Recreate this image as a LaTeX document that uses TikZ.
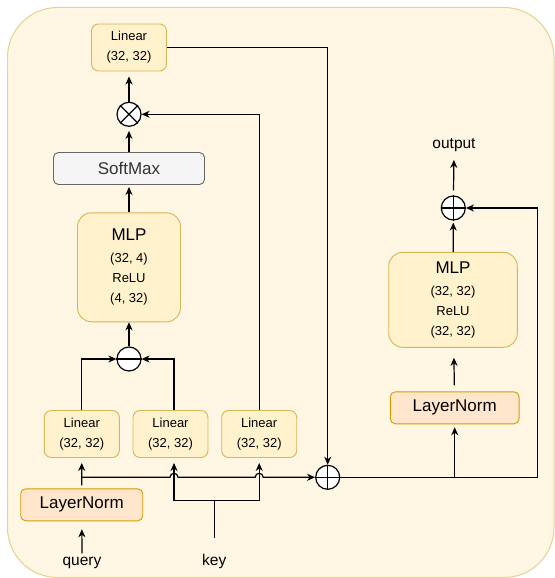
\documentclass[tikz,border=0pt]{standalone}
\usepackage{fontspec}
\setmainfont{Liberation Sans}
\usepackage{xcolor}
\usetikzlibrary{arrows.meta}

\definecolor{bgfill}{HTML}{FFF6E3}
\definecolor{bgdraw}{HTML}{E8D08F}
\definecolor{ylwfill}{HTML}{FFF2CC}
\definecolor{ylwdraw}{HTML}{D6B656}
\definecolor{orgfill}{HTML}{FFE6CC}
\definecolor{orgdraw}{HTML}{D79B00}
\definecolor{gryfill}{HTML}{F5F5F5}
\definecolor{grydraw}{HTML}{666666}

\begin{document}
\begin{tikzpicture}[
  x=1pt, y=-1pt,
  blk/.style={draw=ylwdraw, fill=ylwfill, line width=0.9pt, align=center, inner sep=0pt,
    font=\fontsize{13}{20}\selectfont},
  lin/.style={blk, rounded corners=7pt, minimum width=75pt, minimum height=47pt},
  mlpbox/.style={blk, rounded corners=14pt},
  norm/.style={draw=orgdraw, fill=orgfill, line width=0.9pt, rounded corners=5pt,
    minimum height=32pt, inner sep=0pt, font=\fontsize{17}{20}\selectfont},
  soft/.style={draw=grydraw, fill=gryfill, line width=0.9pt, rounded corners=5pt,
    minimum width=151pt, minimum height=32pt, inner sep=0pt, text=black!80,
    font=\fontsize{17}{20}\selectfont},
  op/.style={circle, draw, fill=white, line width=1.2pt, minimum size=24pt, inner sep=0pt},
  wire/.style={line width=1.2pt},
  arr/.style={wire, -{Stealth[length=8pt, width=7pt, inset=2.5pt]}},
  lbl/.style={font=\fontsize{15.5}{18}\selectfont, inner sep=0pt, anchor=base},
]
  \useasboundingbox (0,0) rectangle (554,578);
  % background panel
  \draw[bgdraw, fill=bgfill, line width=1pt, rounded corners=50pt] (7.5,7.5) rectangle (554,577.5);

  % attention branch (left)
  \node[lin] (lt) at (129,47.5) {Linear\\(32, 32)};
  \node[op] (mul) at (129,114.3) {};
  \draw[wire] (mul.45) -- (mul.225) (mul.135) -- (mul.315);
  \node[soft] (sm) at (129,168.5) {SoftMax};
  \node[mlpbox, minimum width=103pt, minimum height=109pt] (mlp1) at (129,267.3)
    {{\fontsize{17}{20}\selectfont MLP}\\[2pt](32, 4)\\ReLU\\(4, 32)};
  \node[op] (sub) at (129,359) {};
  \draw[wire] (sub.west) -- (sub.east);

  \node[lin] (lq) at (81.8,434) {Linear\\(32, 32)};
  \node[lin] (lk) at (170.5,434) {Linear\\(32, 32)};
  \node[lin] (lv) at (259.2,434) {Linear\\(32, 32)};
  \node[norm, minimum width=122pt] (ln1) at (81.7,504.8) {LayerNorm};

  % inputs
  \node[lbl] (q) at (82,565) {query};
  \node[lbl] (k) at (214.3,565) {key};

  % feed-forward branch (right)
  \node[op] (add1) at (327.7,477.3) {};
  \draw[wire] (add1.north) -- (add1.south) (add1.west) -- (add1.east);
  \node[norm, minimum width=128.7pt] (ln2) at (454.7,407.8) {LayerNorm};
  \node[mlpbox, minimum width=128.6pt, minimum height=95pt] (mlp2) at (453,299.8)
    {{\fontsize{17}{20}\selectfont MLP}\\[2pt](32, 32)\\ReLU\\(32, 32)};
  \node[op] (add2) at (453.3,208) {};
  \draw[wire] (add2.north) -- (add2.south) (add2.west) -- (add2.east);
  \node[lbl] (out) at (454,148.5) {output};

  % connectors
  \coordinate (kx) at ([xshift=3.5pt]lk.north);
  \draw[arr, shorten <=3pt, shorten >=8pt] (q.north) -- (ln1);
  \draw[arr, shorten <=3pt, shorten >=5pt] (ln1) -- (lq);
  \draw[wire] (k.north) ++(0,-16) -- (214.3,500.7) coordinate (kj);
  \draw[arr, shorten >=5pt] (kj) -| (kx |- lk.south);
  \draw[arr, shorten >=5pt] (kj) -| (lv.south);
  \coordinate (br) at (ln1.north |- add1);
  \draw[arr] (br) -- (170,477.3) .. controls (170,472) and (178,472) .. (178,477.3)
    -- (255.2,477.3) .. controls (255.2,472) and (263.2,472) .. (263.2,477.3) -- (add1);

  \draw[arr] (lq.north) |- (sub);
  \draw[arr] (kx) |- (sub);
  \draw[arr] (sub) -- (mlp1);
  \draw[arr, shorten >=2pt] (mlp1) -- (sm);
  \draw[arr, shorten >=4pt] (sm) -- (mul);
  \draw[arr] (lv.north) |- (mul);
  \draw[arr, shorten >=5pt] (mul) -- (lt);
  \draw[arr] (lt.east) -| (add1);

  \draw[arr] (add1) -- (537.3,477.3) |- (add2);
  \draw[arr, shorten >=3pt] (ln2.south |- add1) -- (ln2);
  \draw[arr, shorten <=6pt, shorten >=10pt] (ln2) -- (mlp2);
  \draw[arr, shorten >=2pt] (mlp2) -- (add2);
  \draw[arr, shorten <=5pt, shorten >=8pt] (add2) -- (out.south);
\end{tikzpicture}
\end{document}
